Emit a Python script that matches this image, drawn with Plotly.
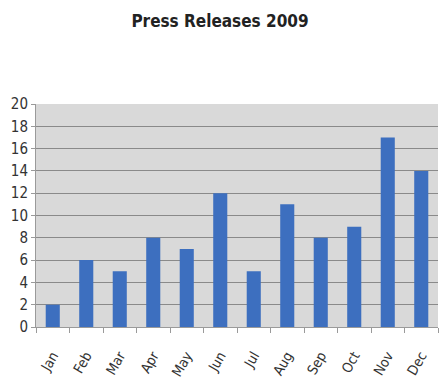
import plotly.graph_objects as go

months = ["Jan", "Feb", "Mar", "Apr", "May", "Jun", "Jul", "Aug", "Sep", "Oct", "Nov", "Dec"]
releases = [2, 6, 5, 8, 7, 12, 5, 11, 8, 9, 17, 14]
y_ticks = list(range(0, 21, 2))

FONT = "DejaVu Sans Condensed, Liberation Sans Narrow, sans-serif"

fig = go.Figure(go.Bar(
    x=months, y=releases,
    marker=dict(color="#3d6fbf", line=dict(width=0)),
    width=0.42,
))

fig.update_layout(
    width=440, height=389,
    margin=dict(l=36, r=2, t=104, b=62, autoexpand=False),
    paper_bgcolor="white",
    plot_bgcolor="#d9d9d9",
    showlegend=False,
    title=dict(text="<b>Press Releases 2009</b>", x=0.5, xref="container", xanchor="center",
               y=1 - 21 / 389, yanchor="middle",
               font=dict(family=FONT, size=17, color="#222")),
    font=dict(family=FONT, size=13, color="#333"),
)
fig.update_xaxes(
    tickangle=-60, showgrid=False, showline=True, linecolor="#9a9a9a", linewidth=1,
    ticks="outside", ticklen=5, tickcolor="#9a9a9a", tickson="boundaries",
    tickfont=dict(size=14, family=FONT, color="#333"), automargin=False,
    ticklabelstandoff=14,
)
fig.update_yaxes(
    range=[0, 20], tickvals=y_ticks, showgrid=True, gridcolor="#8a8a8a", gridwidth=1,
    showline=True, linecolor="#9a9a9a", ticks="outside", ticklen=4, tickcolor="#9a9a9a",
    zeroline=False, tickfont=dict(size=15, family=FONT, color="#333"), automargin=False,
)

fig.write_html("out.html", config={"displayModeBar": False},
               post_script="document.body.style.margin='0';")
